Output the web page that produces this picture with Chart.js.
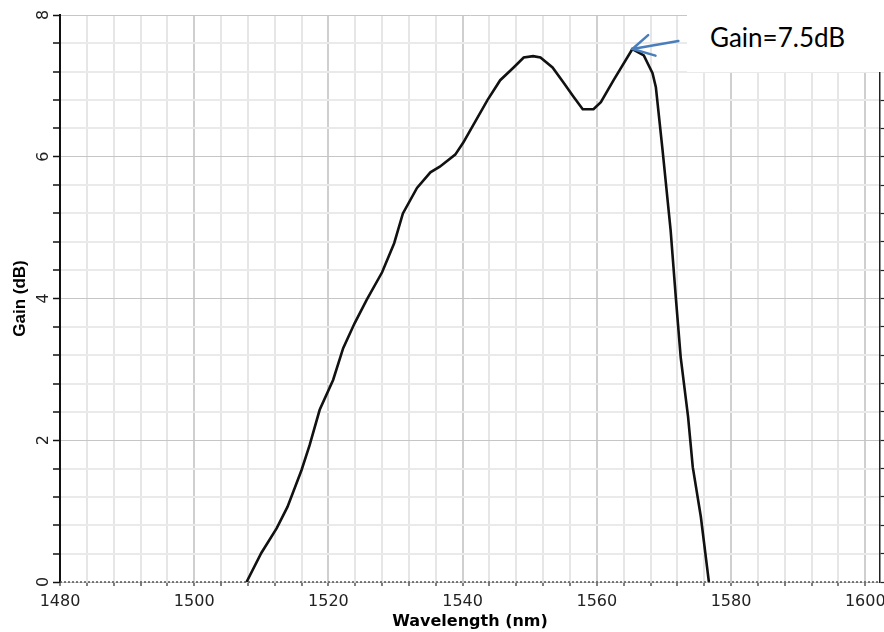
<!DOCTYPE html>
<html lang="en">
<head>
<meta charset="UTF-8">
<title>Gain vs wavelength</title>
<script src="https://cdn.jsdelivr.net/npm/chart.js"></script>
<style>
    body { margin: 0; background: #fff; }
    #wrap { position: relative; width: 884px; height: 632px; }
    #gainNote {
        position: absolute; left: 687px; top: 0; width: 197px; height: 72px;
        background: #fff; box-sizing: border-box; padding-left: 23px;
        font-family: Lato, "Open Sans", sans-serif; font-size: 26px; line-height: 74px; color: #000;
    }
</style>
</head>
<body>
<div id="wrap">
    <canvas id="gainChart" width="884" height="632"></canvas>
    <div id="gainNote">Gain=7.5dB</div>
</div>
<script>
    // values
    const wavelengths = [1507.8, 1510.0, 1512.3, 1513.9, 1516.0, 1517.2, 1518.7, 1520.7, 1522.2, 1523.9,
        1525.7, 1528.0, 1529.8, 1531.1, 1533.2, 1535.2, 1536.6, 1538.9, 1540.1, 1541.6,
        1543.7, 1545.6, 1547.6, 1549.1, 1550.5, 1551.6, 1553.4, 1555.0, 1556.5, 1557.9,
        1559.5, 1560.6, 1562.5, 1565.3, 1567.0, 1568.3, 1568.8, 1569.8, 1571.0, 1571.8,
        1572.5, 1573.6, 1574.3, 1575.5, 1576.7];
    const gains = [0, 0.41, 0.76, 1.06, 1.58, 1.93, 2.43, 2.85, 3.30, 3.65,
        3.98, 4.37, 4.78, 5.20, 5.56, 5.78, 5.86, 6.03, 6.20, 6.45,
        6.80, 7.08, 7.26, 7.40, 7.42, 7.40, 7.26, 7.05, 6.85, 6.67,
        6.67, 6.77, 7.08, 7.52, 7.43, 7.18, 6.98, 6.09, 4.96, 3.98,
        3.17, 2.33, 1.62, 0.92, 0];
    const peakWavelength = 1565.3;
    const peakGain = 7.52;

    const xMin = 1480, xMax = 1602.2, xStep = 4, xLabelStep = 20;
    const yMin = 0, yMax = 8, yStep = 0.4, yLabelStep = 2;

    function isMultiple(v, step) {
        return Math.abs(v / step - Math.round(v / step)) < 1e-6;
    }

    // dotted bottom axis line + blue arrow pointing at the peak
    const extrasPlugin = {
        id: 'extras',
        beforeDatasetsDraw(chart) {
            const ctx = chart.ctx;
            const a = chart.chartArea;
            ctx.save();
            ctx.strokeStyle = '#555';
            ctx.lineWidth = 1.5;
            ctx.setLineDash([2, 2]);
            ctx.beginPath();
            ctx.moveTo(a.left, a.bottom);
            ctx.lineTo(a.right, a.bottom);
            ctx.stroke();
            ctx.restore();
        },
        afterDatasetsDraw(chart) {
            const ctx = chart.ctx;
            const tx = chart.scales.x.getPixelForValue(peakWavelength);
            const ty = chart.scales.y.getPixelForValue(peakGain);
            const sx = tx + 46, sy = ty - 8;
            const ang = Math.atan2(sy - ty, sx - tx);
            ctx.save();
            ctx.strokeStyle = '#4a7ebb';
            ctx.lineWidth = 2.5;
            ctx.lineCap = 'round';
            ctx.beginPath();
            ctx.moveTo(sx, sy);
            ctx.lineTo(tx, ty);
            ctx.moveTo(tx + 21 * Math.cos(ang - 0.55), ty + 21 * Math.sin(ang - 0.55));
            ctx.lineTo(tx, ty);
            ctx.lineTo(tx + 24 * Math.cos(ang + 0.45), ty + 24 * Math.sin(ang + 0.45));
            ctx.stroke();
            ctx.restore();
        }
    };

    const ctx = document.getElementById('gainChart').getContext('2d');
    new Chart(ctx, {
        type: 'line',
        data: {
            datasets: [{
                data: wavelengths.map((w, i) => ({ x: w, y: gains[i] })),
                borderColor: '#111',
                borderWidth: 2.6,
                pointRadius: 0,
                tension: 0,
                fill: false
            }]
        },
        options: {
            responsive: false,
            animation: false,
            events: [],
            layout: { padding: { top: 15, right: 0, bottom: 0, left: 0 } },
            plugins: { legend: { display: false }, tooltip: { enabled: false } },
            scales: {
                x: {
                    type: 'linear',
                    min: xMin,
                    max: xMax,
                    afterFit: s => { s.height = 50; s.paddingLeft = 0; s.paddingRight = 0; },
                    ticks: {
                        stepSize: xStep,
                        includeBounds: false,
                        autoSkip: false,
                        maxRotation: 0,
                        padding: 6,
                        color: '#222',
                        font: { family: 'DejaVu Sans', size: 16 },
                        callback: v => isMultiple(v, xLabelStep) ? String(v) : ''
                    },
                    grid: {
                        color: c => isMultiple(c.tick.value, xLabelStep) ? '#cfcfcf' : '#e6e6e6',
                        lineWidth: 2,
                        tickColor: '#555',
                        tickLength: 4,
                        tickWidth: 1.5
                    },
                    border: { display: false },
                    title: {
                        display: true,
                        text: 'Wavelength (nm)',
                        color: '#000',
                        font: { family: 'DejaVu Sans', size: 16, weight: 'bold' },
                        padding: { top: 0, bottom: 1 }
                    }
                },
                y: {
                    min: yMin,
                    max: yMax,
                    afterFit: s => { s.width = 60; s.paddingTop = 0; s.paddingBottom = 0; },
                    ticks: {
                        stepSize: yStep,
                        autoSkip: false,
                        minRotation: 90,
                        maxRotation: 90,
                        crossAlign: 'center',
                        padding: 4,
                        color: '#222',
                        font: { family: 'DejaVu Sans', size: 16 },
                        callback: v => isMultiple(v, yLabelStep) ? String(v) : ''
                    },
                    grid: {
                        color: c => isMultiple(c.tick.value, yLabelStep) ? '#c6c6c6' : '#eaeaea',
                        lineWidth: c => isMultiple(c.tick.value, yLabelStep) ? 1 : 2,
                        tickColor: '#111',
                        tickLength: 7,
                        tickWidth: 1.5
                    },
                    border: { color: '#111', width: 2 },
                    title: {
                        display: true,
                        text: 'Gain (dB)',
                        color: '#000',
                        font: { family: 'Liberation Sans', size: 17, weight: 'bold' },
                        padding: { top: 10, bottom: 0 }
                    }
                },
                y2: {
                    position: 'right',
                    min: yMin,
                    max: yMax,
                    afterFit: s => { s.width = 4; s.paddingTop = 0; s.paddingBottom = 0; },
                    ticks: { stepSize: yStep, autoSkip: false, padding: 0, callback: () => '' },
                    grid: { drawOnChartArea: false, tickColor: '#222', tickLength: 4, tickWidth: 1.2 },
                    border: { color: '#222', width: 1.5 }
                }
            }
        },
        plugins: [extrasPlugin]
    });
</script>
</body>
</html>
